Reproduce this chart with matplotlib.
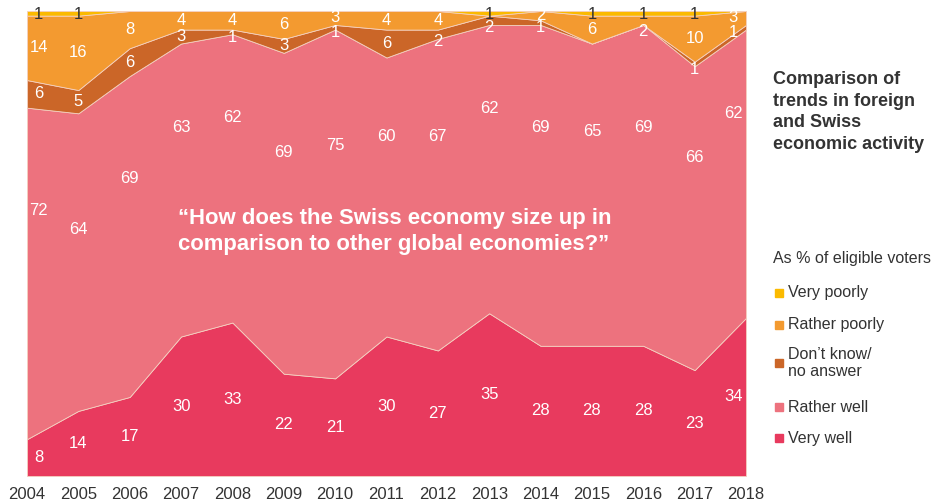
import matplotlib
matplotlib.use("Agg")
import matplotlib.pyplot as plt
import numpy as np

years = list(range(2004, 2019))
very_well = [8, 14, 17, 30, 33, 22, 21, 30, 27, 35, 28, 28, 28, 23, 34]
rather_well = [72, 64, 69, 63, 62, 69, 75, 60, 67, 62, 69, 65, 69, 66, 62]
dont_know = [6, 5, 6, 3, 1, 3, 1, 6, 2, 2, 1, 0, 0, 1, 1]
rather_poorly = [14, 16, 8, 4, 4, 6, 3, 4, 4, 0, 2, 6, 2, 10, 3]
very_poorly = [1, 1, 0, 0, 0, 0, 0, 0, 0, 1, 0, 1, 1, 1, 0]

# height (in %) where the "Rather well" numbers sit
rather_well_label_y = [57, 53, 64, 75, 77, 69.5, 71, 73, 73, 79, 75, 74, 75, 68.5, 78]

series_names = ["Very well", "Rather well", "Don\u2019t know/\nno answer", "Rather poorly", "Very poorly"]
colors = ["#E83A5E", "#ED727E", "#CB6628", "#F39A30", "#FBBA00"]

plt.rcParams["font.family"] = ["Liberation Sans", "DejaVu Sans"]

data = np.array([very_well, rather_well, dont_know, rather_poorly, very_poorly], dtype=float)
totals = data.sum(axis=0)
shares = data / totals * 100

fig = plt.figure(figsize=(9.47, 5.03), dpi=100)
ax = fig.add_axes([27 / 947, 27 / 503, 719 / 947, 465 / 503])
ax.stackplot(years, shares, colors=colors, linewidth=0.6, edgecolors="#f4d0c0")
ax.set_xlim(years[0], years[-1])
ax.set_ylim(0, 100)
for s in ax.spines.values():
    s.set_visible(False)
ax.set_yticks([])
ax.set_xticks(years)
ax.set_xticklabels([str(y) for y in years], fontsize=12, color="#333333")
ax.tick_params(axis="x", length=0, pad=8)

# keep the first and last column of numbers inside the plot
label_x = [float(y) for y in years]
label_x[0] += 0.23
label_x[-1] -= 0.25

cum = np.cumsum(shares, axis=0)
lab_kw = dict(ha="center", va="center", fontsize=12, color="white")
for i, x in enumerate(label_x):
    # very well
    ax.text(x, shares[0, i] / 2, str(very_well[i]), **lab_kw)
    # rather well
    ax.text(x, rather_well_label_y[i], str(rather_well[i]), **lab_kw)
    # don't know
    if dont_know[i]:
        lo = cum[1, i]
        y = lo - 0.6 if dont_know[i] <= 2 else lo + shares[2, i] / 2
        ax.text(x, y, str(dont_know[i]), **lab_kw)
    # rather poorly
    if rather_poorly[i]:
        lo = cum[2, i]
        if rather_poorly[i] <= 2 and very_poorly[i]:
            y = lo - 1.5
        else:
            y = lo + shares[3, i] / 2
        ax.text(x, y, str(rather_poorly[i]), **lab_kw)
    # very poorly
    if very_poorly[i]:
        ax.text(x, 99.2, str(very_poorly[i]), ha="center", va="center",
                fontsize=12, color="#333333", clip_on=False)

ax.text(2006.94, 52.5, "\u201cHow does the Swiss economy size up in\ncomparison to other global economies?\u201d",
        ha="left", va="center", fontsize=15.9, fontweight="bold", color="white", linespacing=1.3)

fig.text(773 / 947, 1 - 112 / 503, "Comparison of\ntrends in foreign\nand Swiss\neconomic activity",
         ha="left", va="center", fontsize=13, fontweight="bold", color="#333333", linespacing=1.35)
fig.text(773 / 947, 1 - 259 / 503, "As % of eligible voters", ha="left", va="center",
         fontsize=11.5, color="#333333")

legend_y = [293, 325, 363, 407, 438]
legend_order = [4, 3, 2, 1, 0]
for y, k in zip(legend_y, legend_order):
    fig.patches.append(plt.Rectangle((775 / 947, 1 - (y + 4) / 503), 8 / 947, 8 / 503,
                                     transform=fig.transFigure, color=colors[k]))
    fig.text(788 / 947, 1 - y / 503, series_names[k], ha="left", va="center",
             fontsize=11.5, color="#333333", linespacing=1.2)

fig.savefig("out.png", dpi=100)
